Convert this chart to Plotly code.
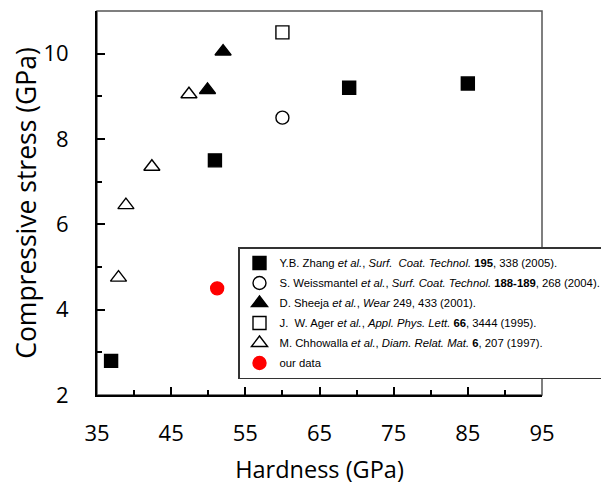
import plotly.graph_objects as go

# Hardness (GPa) / compressive stress (GPa)
zhang_h = [36.9, 50.9, 69.0, 85.0]
zhang_s = [2.8, 7.5, 9.2, 9.3]
weiss_h = [60.0]
weiss_s = [8.5]
sheeja_h = [49.9, 52.0]
sheeja_s = [9.15, 10.05]
ager_h = [60.0]
ager_s = [10.5]
chhow_h = [37.9, 38.9, 42.4, 47.4]
chhow_s = [4.75, 6.45, 7.35, 9.05]
ours_h = [51.2]
ours_s = [4.5]

names = [
    "Y.B. Zhang <i>et al.</i>, <i>Surf.  Coat. Technol.</i> <b>195</b>, 338 (2005).",
    "S. Weissmantel <i>et al.</i>, <i>Surf. Coat. Technol.</i> <b>188-189</b>, 268 (2004).",
    "D. Sheeja <i>et al.</i>, <i>Wear</i> 249, 433 (2001).",
    "J.  W. Ager <i>et al.</i>, <i>Appl. Phys. Lett.</i> <b>66</b>, 3444 (1995).",
    "M. Chhowalla <i>et al.</i>, <i>Diam. Relat. Mat.</i> <b>6</b>, 207 (1997).",
    "our data",
]

series = [
    (zhang_h, zhang_s, "square", "black", 13),
    (weiss_h, weiss_s, "circle-open", "black", 13),
    (sheeja_h, sheeja_s, "triangle-up", "black", 14),
    (ager_h, ager_s, "square-open", "black", 13),
    (chhow_h, chhow_s, "triangle-up-open", "black", 14),
    (ours_h, ours_s, "circle", "#ff0000", 13),
]

fig = go.Figure()
for i, ((xs, ys, sym, col, sz), nm) in enumerate(zip(series, names)):
    fig.add_trace(go.Scatter(
        x=xs, y=ys, mode="markers", name=nm, legendgroup=f"g{i}",
        marker=dict(symbol=sym, size=sz, color=col,
                    line=dict(color=col, width=1.4)),
    ))

axis_font = dict(family="Open Sans", size=22, color="black")
fig.update_layout(
    width=601, height=481,
    margin=dict(l=89, r=67, t=3, b=94, autoexpand=False),
    plot_bgcolor="white", paper_bgcolor="white",
    showlegend=True,
    legend=dict(
        x=(238 - 97) / 445, y=(395 - 247) / 384, xanchor="left", yanchor="top",
        bgcolor="white", bordercolor="#333333", borderwidth=1.5,
        font=dict(family="Liberation Sans", size=11.3, color="black"),
        tracegroupgap=1, traceorder="grouped",
    ),
    xaxis=dict(
        range=[35, 95], tick0=35, dtick=10, ticks="inside", ticklen=8, tickwidth=1.5,
        tickcolor="black", showline=True, linecolor="black", linewidth=2,
        showgrid=False, zeroline=False, tickfont=axis_font, ticklabelstandoff=18,
        minor=dict(dtick=5, ticks="inside", ticklen=5, tickwidth=1.5, tickcolor="black", showgrid=False),
        title=dict(text="Hardness (GPa)", font=dict(family="Open Sans", size=23.5, color="black"), standoff=15),
    ),
    yaxis=dict(
        range=[2, 11], tick0=2, dtick=2, ticks="inside", ticklen=8, tickwidth=1.5,
        tickcolor="black", showline=True, linecolor="black", linewidth=2,
        showgrid=False, zeroline=False, tickfont=axis_font, ticklabelstandoff=22,
        minor=dict(dtick=1, ticks="inside", ticklen=5, tickwidth=1.5, tickcolor="black", showgrid=False),
        title=dict(text="Compressive stress (GPa)", font=dict(family="Open Sans", size=26.5, color="black"), standoff=8),
    ),
    shapes=[dict(type="rect", xref="paper", yref="paper", x0=0, x1=1, y0=0, y1=1,
                 line=dict(color="#555555", width=1.5), layer="below")],
)

fig.write_html("out.html")
